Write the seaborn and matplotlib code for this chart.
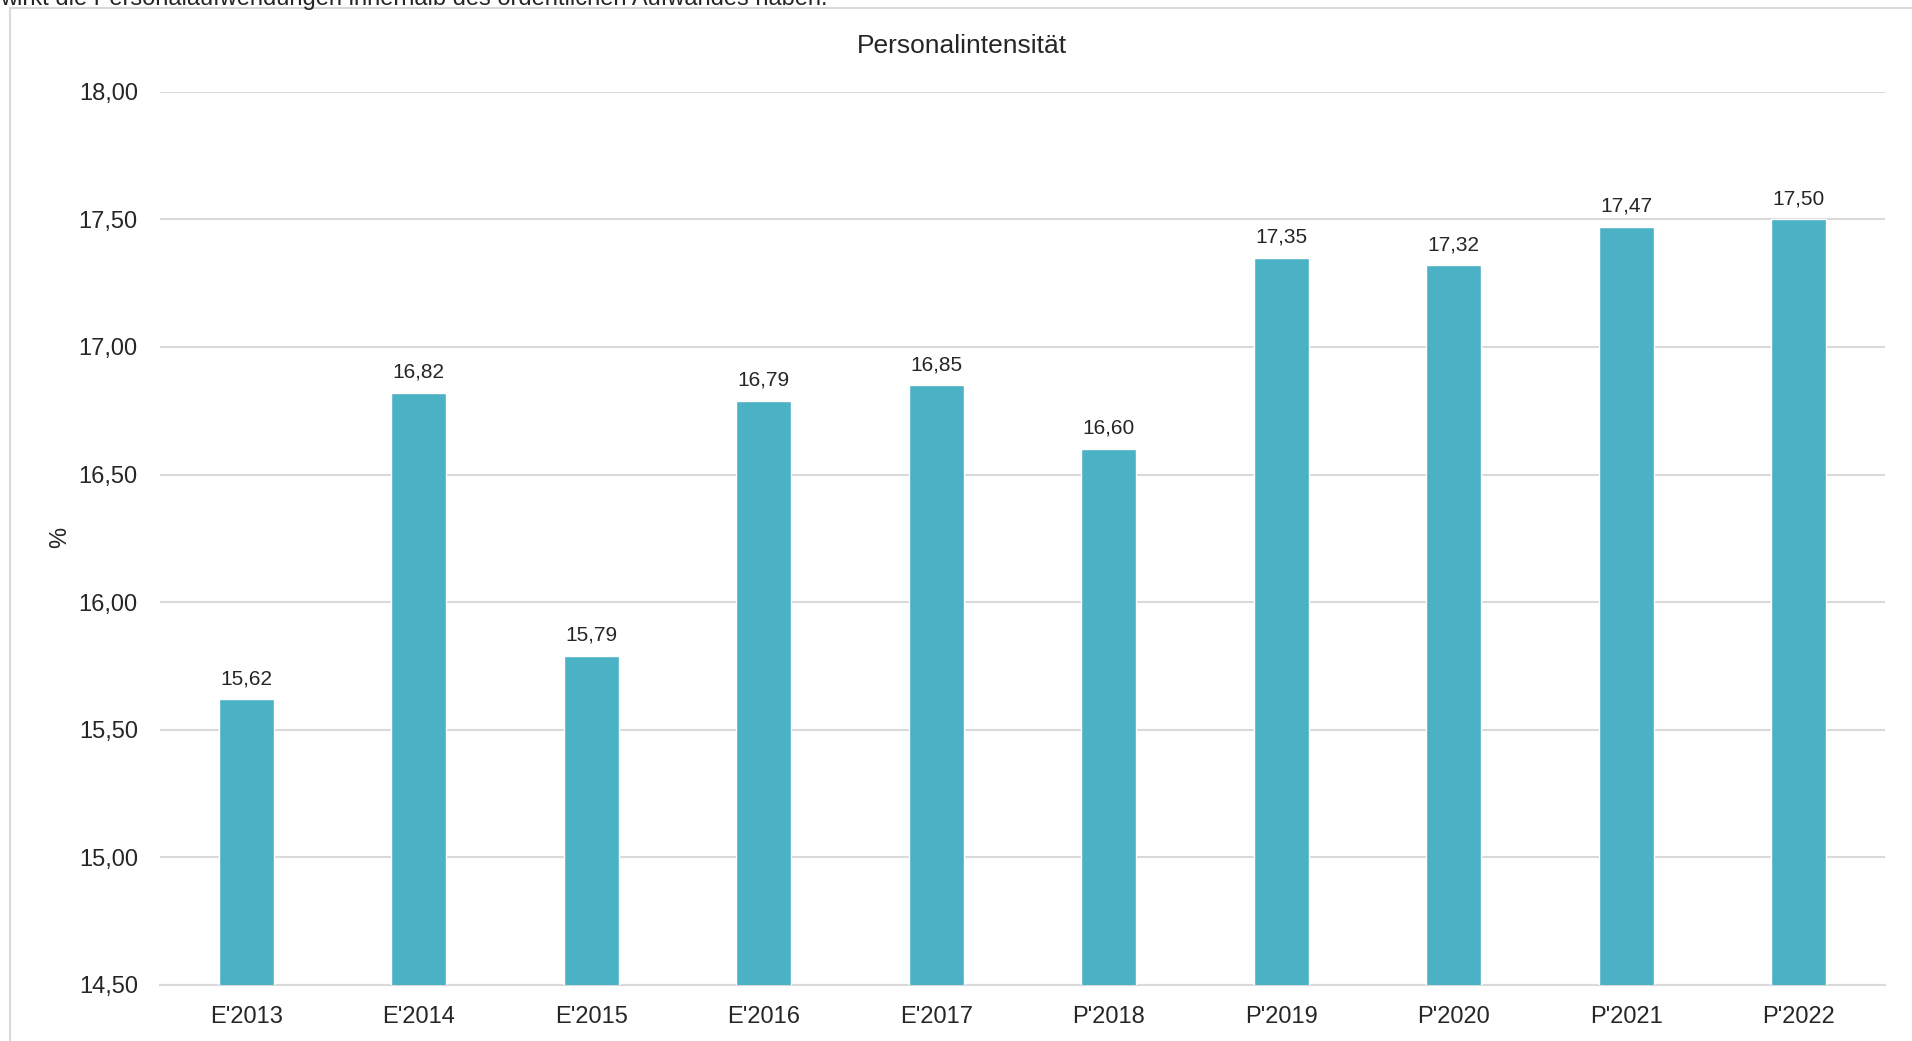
import matplotlib
matplotlib.use("Agg")
import matplotlib.pyplot as plt
import seaborn as sns
import pandas as pd
from matplotlib.patches import Rectangle

# chart data
jahre = ["E'2013", "E'2014", "E'2015", "E'2016", "E'2017",
         "P'2018", "P'2019", "P'2020", "P'2021", "P'2022"]
werte = [15.62, 16.82, 15.79, 16.79, 16.85, 16.60, 17.35, 17.32, 17.47, 17.50]
y_ticks = [14.5, 15.0, 15.5, 16.0, 16.5, 17.0, 17.5, 18.0]

df = pd.DataFrame({"Jahr": jahre, "Wert": werte})

sns.set_style("white")
plt.rcParams["font.family"] = ["Liberation Sans", "DejaVu Sans"]

fig = plt.figure(figsize=(19.12, 10.41), dpi=100)
ax = fig.add_axes([160 / 1912, 1 - 985 / 1041, (1885 - 160) / 1912, (985 - 91.7) / 1041])

sns.barplot(data=df, x="Jahr", y="Wert", color="#4BB1C5", width=0.316,
            saturation=1, ax=ax, zorder=3)

ax.set_ylim(14.5, 18.0)
ax.set_yticks(y_ticks)
ax.set_yticklabels([f"{v:.2f}".replace(".", ",") for v in y_ticks])
ax.grid(axis="y", color="#d9d9d9", linewidth=1.5, zorder=0)
ax.set_axisbelow(True)
for s in ["top", "right", "left"]:
    ax.spines[s].set_visible(False)
ax.spines["bottom"].set_color("#d9d9d9")
ax.spines["bottom"].set_linewidth(1.5)
ax.tick_params(axis="y", length=0, pad=16, labelsize=17)
ax.tick_params(axis="x", length=0, pad=15, labelsize=17)
ax.set_xlabel("")
ax.set_ylabel("%", fontsize=17)
ax.yaxis.set_label_coords(-0.0516, (1041 - 537 - 56) / (985 - 91.7))

ax.bar_label(ax.containers[0], labels=[f"{v:.2f}".replace(".", ",") for v in werte],
             padding=8, fontsize=15)

fig.text(962 / 1912, 1 - 53 / 1041, "Personalintensität", ha="center",
         va="baseline", fontsize=19)

# clipped line of text from above the chart
fig.text(0.0, 1 - 5 / 1041,
         "wirkt die Personalaufwendungen innerhalb des ordentlichen Aufwandes haben.",
         va="baseline", ha="left", fontsize=17)

# chart frame
fig.patches.append(Rectangle((10 / 1912, -0.1), 1.2, 1 - 8 / 1041 + 0.1,
                             transform=fig.transFigure, fill=False,
                             edgecolor="#d9d9d9", linewidth=1.5, zorder=0))

fig.savefig("out.png", dpi=100)
